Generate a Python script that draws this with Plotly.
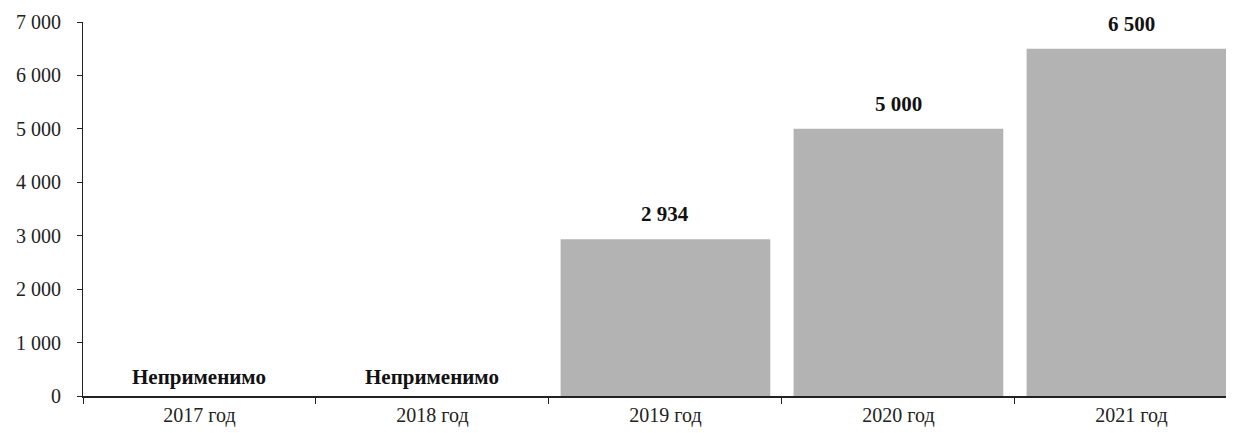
import plotly.graph_objects as go

categories = ["2017 год", "2018 год", "2019 год", "2020 год", "2021 год"]
values = [None, None, 2934, 5000, 6500]
na_label = "Неприменимо"
y_ticks = [0, 1000, 2000, 3000, 4000, 5000, 6000, 7000]

FONT = "Times New Roman, Liberation Serif, DejaVu Serif, serif"

def fmt(v):
    return f"{v:,}".replace(",", " ")

fig = go.Figure()
fig.add_trace(go.Bar(
    x=categories,
    y=[v if v is not None else 0 for v in values],
    marker=dict(color="#b3b3b3", line=dict(width=0)),
    width=0.9,
    hoverinfo="skip",
))

annotations = []
for c, v in zip(categories, values):
    if v is None:
        annotations.append(dict(x=c, y=0, text="<b>" + na_label + "</b>", showarrow=False,
                                yshift=19, font=dict(family=FONT, size=21, color="#111")))
    else:
        annotations.append(dict(x=c, y=v, text="<b>" + fmt(v) + "</b>", showarrow=False,
                                yshift=25, font=dict(family=FONT, size=21, color="#111")))

fig.update_layout(
    width=1234, height=433,
    margin=dict(l=75, r=9, t=14, b=45),
    paper_bgcolor="white", plot_bgcolor="white",
    showlegend=False,
    annotations=annotations,
    font=dict(family=FONT, size=20, color="#222"),
)
fig.update_xaxes(
    range=[-0.5, 4.436], automargin=False,
    showline=True, linecolor="#222", linewidth=1.5,
    ticks="outside", tickson="boundaries", ticklen=6, tickcolor="#222",
    showgrid=False, zeroline=False,
    tickfont=dict(family=FONT, size=20, color="#222"),
)
fig.update_yaxes(
    range=[0, 7000], automargin=False,
    tickvals=y_ticks, ticktext=[fmt(t) for t in y_ticks],
    showline=True, linecolor="#222", linewidth=1.2,
    ticks="outside", ticklen=5, tickcolor="#222",
    ticklabelstandoff=12,
    showgrid=False, zeroline=False,
    tickfont=dict(family=FONT, size=20, color="#222"),
)

fig.write_html("out.html")
